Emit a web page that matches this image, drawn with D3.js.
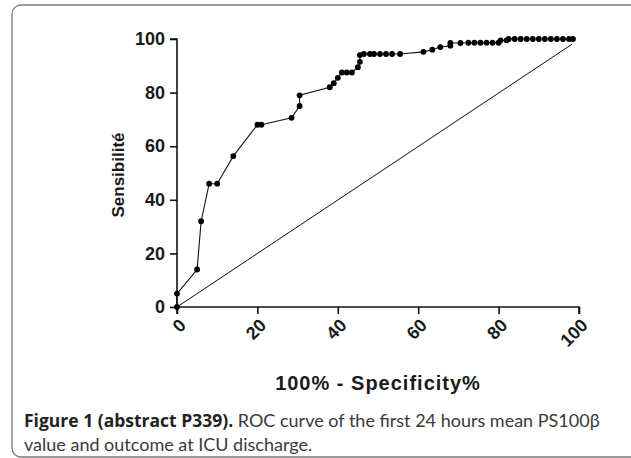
<!DOCTYPE html>
<html>
<head>
<meta charset="utf-8">
<script src="https://cdn.jsdelivr.net/npm/d3@7"></script>
<style>
html,body{margin:0;padding:0;background:#fff;}
svg{display:block;}
</style>
</head>
<body>
<svg id="c" width="631" height="458"></svg>
<script>
// ROC curve: 100% - specificity (x) and sensitivity (y)
const fpr = [0, 0, 5, 6, 8, 10, 14, 20, 21, 28.5, 30.5, 30.5, 38, 39, 40, 41, 42.2, 43.5, 45, 45.5, 45.5,
  46.5, 48, 49, 50.5, 52, 53.5, 55.5, 61.3, 63.5, 65.5, 68, 68, 70.5, 72.5, 74, 75.5, 77, 78.5, 80,
  80.5, 82, 82.5, 84, 85.5, 87, 88.5, 90, 91.5, 93, 94.5, 96, 97.5, 98.5];
const tpr = [0, 5, 14, 32, 46, 46, 56.3, 68, 68, 70.6, 75, 79, 82, 83.5, 85.5, 87.5, 87.5, 87.5, 89.5, 91.5, 94,
  94.4, 94.4, 94.4, 94.4, 94.4, 94.4, 94.4, 95.2, 96, 97, 97.5, 98.5, 98.5, 98.6, 98.6, 98.6, 98.6, 98.6, 98.6,
  99.5, 99.5, 100, 100, 100, 100, 100, 100, 100, 100, 100, 100, 100, 100];
// chance (identity) line
const diagX = [0, 98.3];
const diagY = [0, 98.1];
const xTicks = [0, 20, 40, 60, 80, 100];
const yTicks = [0, 20, 40, 60, 80, 100];
const xTitle = "100% - Specificity%";
const yTitle = "Sensibilité";
const captionBold = "Figure 1 (abstract P339).";
const captionRest1 = " ROC curve of the first 24 hours mean PS100β";
const captionLine2 = "value and outcome at ICU discharge.";

const svg = d3.select("#c");
const x = d3.scaleLinear().domain([0, 100]).range([177, 579]);
const y = d3.scaleLinear().domain([0, 100]).range([307, 39]);

// frame
svg.append("rect").attr("x", 12).attr("y", 5).attr("width", 630).attr("height", 452)
  .attr("rx", 9).attr("fill", "none").attr("stroke", "#7a7a7a").attr("stroke-width", 1.3);

const lab = "'Liberation Sans', Arial, sans-serif";

// axes
const yAxis = svg.append("g").attr("transform", `translate(${x(0)},0)`)
  .call(d3.axisLeft(y).tickValues(yTicks).tickSize(7).tickPadding(5).tickFormat(d3.format("d")));
const xAxis = svg.append("g").attr("transform", `translate(0,${y(0)})`)
  .call(d3.axisBottom(x).tickValues(xTicks).tickSize(7).tickFormat(d3.format("d")));
[yAxis, xAxis].forEach(g => {
  g.select(".domain").attr("stroke", "#111").attr("stroke-width", 1.6);
  g.selectAll(".tick line").attr("stroke", "#111").attr("stroke-width", 1.6);
  g.selectAll("text").attr("font-family", lab).attr("font-weight", "bold")
    .attr("font-size", 18).attr("fill", "#1a1a1a");
});
yAxis.select(".domain").attr("d", `M-7,${y(100)}H0V${y(0)}`);
xAxis.select(".domain").attr("d", `M${x(0)},7V0H${x(100)}V7`);
xAxis.selectAll(".tick text")
  .attr("text-anchor", "end").attr("dy", "0.35em")
  .attr("transform", "translate(5,15) rotate(-45)").attr("y", 0).attr("x", 0);

// diagonal
svg.append("path")
  .datum(diagX.map((d, i) => [d, diagY[i]]))
  .attr("d", d3.line().x(d => x(d[0])).y(d => y(d[1])))
  .attr("fill", "none").attr("stroke", "#111").attr("stroke-width", 1);

// ROC curve
const pts = fpr.map((d, i) => [d, tpr[i]]);
svg.append("path").datum(pts)
  .attr("d", d3.line().x(d => x(d[0])).y(d => y(d[1])))
  .attr("fill", "none").attr("stroke", "#111").attr("stroke-width", 1.1);
svg.append("g").selectAll("circle").data(pts).join("circle")
  .attr("cx", d => x(d[0])).attr("cy", d => y(d[1])).attr("r", 2.9).attr("fill", "#000");

// axis titles
svg.append("text").attr("x", 378).attr("y", 390).attr("text-anchor", "middle")
  .attr("font-family", lab).attr("font-weight", "bold").attr("font-size", 20)
  .attr("letter-spacing", 1).attr("fill", "#1a1a1a")
  .text(xTitle);
svg.append("text").attr("transform", "translate(124,175) rotate(-90)").attr("text-anchor", "middle")
  .attr("font-family", lab).attr("font-weight", "bold").attr("font-size", 17).attr("fill", "#1a1a1a")
  .text(yTitle);

// caption
const cap = "'Open Sans', 'Noto Sans', sans-serif";
const norm = "Lato, 'Open Sans', sans-serif";
const t1 = svg.append("text").attr("x", 24).attr("y", 427).attr("font-family", cap).attr("font-size", 17.5).attr("fill", "#3a3a3a");
t1.append("tspan").attr("font-weight", "bold").attr("fill", "#222").text(captionBold);
t1.append("tspan").attr("font-family", norm).attr("font-size", 18).text(captionRest1);
svg.append("text").attr("x", 24).attr("y", 451).attr("font-family", norm).attr("font-size", 18).attr("fill", "#3a3a3a")
  .text(captionLine2);
</script>
</body>
</html>
